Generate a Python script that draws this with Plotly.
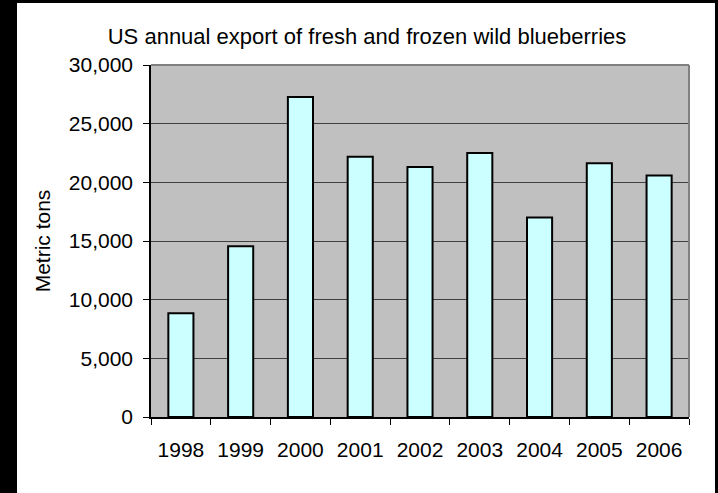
import plotly.graph_objects as go

years = ["1998", "1999", "2000", "2001", "2002", "2003", "2004", "2005", "2006"]
exports = [8850, 14550, 27280, 22170, 21300, 22500, 17000, 21630, 20580]

W, H = 718, 493
L, R, T, B = 151, 29, 65, 76
pw, ph = W - L - R, H - T - B

def px_x(p):
    return (p - L) / pw

def px_y(p):
    return (H - B - p) / ph

FONT = "Liberation Sans, Arial, sans-serif"

fig = go.Figure(
    go.Bar(
        x=years,
        y=exports,
        marker=dict(color="#CCFFFF", line=dict(color="black", width=2)),
    )
)

shapes = [
    # white chart area on black frame
    dict(type="rect", xref="paper", yref="paper", x0=px_x(17), x1=px_x(715), y0=px_y(H + 10), y1=px_y(3),
         fillcolor="white", line=dict(width=0), layer="below"),
    # gray plot background
    dict(type="rect", xref="paper", yref="paper", x0=0, x1=1, y0=0, y1=1,
         fillcolor="#C0C0C0", line=dict(width=0), layer="below"),
    # gray top/right border of plot area
    dict(type="line", xref="paper", yref="paper", x0=0, x1=1, y0=1, y1=1,
         line=dict(color="#808080", width=2), layer="above"),
    dict(type="line", xref="paper", yref="paper", x0=1, x1=1, y0=0, y1=1,
         line=dict(color="#808080", width=2), layer="above"),
]

fig.update_layout(
    width=W,
    height=H,
    margin=dict(l=L, r=R, t=T, b=B, autoexpand=False),
    paper_bgcolor="black",
    plot_bgcolor="rgba(0,0,0,0)",
    bargap=0.58,
    showlegend=False,
    font=dict(family=FONT, color="black", size=21),
    title=dict(
        text="US annual export of fresh and frozen wild blueberries",
        x=367 / W,
        xanchor="center",
        xref="container",
        y=1 - 36 / H,
        yref="container",
        yanchor="middle",
        font=dict(family=FONT, size=22, color="black"),
    ),
    shapes=shapes,
)

fig.update_xaxes(
    type="category",
    showgrid=False,
    showline=True,
    linecolor="black",
    linewidth=1.5,
    ticks="outside",
    tickson="boundaries",
    ticklen=6,
    tickcolor="black",
    tickwidth=1,
    ticklabelstandoff=13,
    tickfont=dict(size=21),
)

fig.update_yaxes(
    range=[0, 30000],
    dtick=5000,
    tickformat=",",
    showgrid=True,
    gridcolor="#404040",
    gridwidth=1,
    showline=True,
    linecolor="black",
    linewidth=1.5,
    ticks="outside",
    ticklen=6,
    tickcolor="black",
    tickwidth=1,
    ticklabelstandoff=6,
    tickfont=dict(size=21),
    zeroline=False,
    title=dict(text="Metric tons", font=dict(size=21), standoff=12),
)

fig.write_html(
    "out.html",
    config={"displayModeBar": False},
    post_script="document.body.style.margin='0';document.body.style.overflow='hidden';",
)
